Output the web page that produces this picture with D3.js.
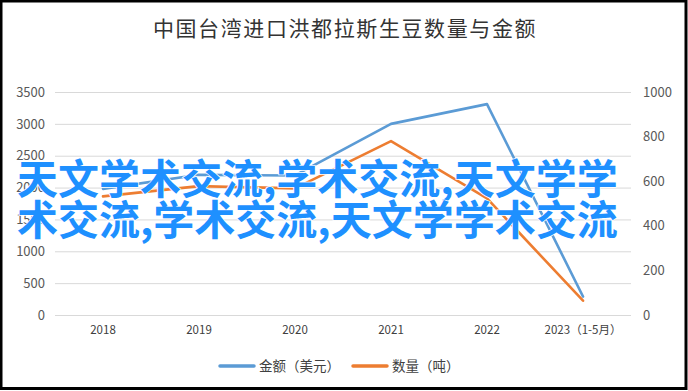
<!DOCTYPE html>
<html>
<head>
<meta charset="utf-8">
<script src="https://cdn.jsdelivr.net/npm/d3@7"></script>
<style>
  body { margin: 0; background: #fff; }
  svg text { font-family: "Noto Sans CJK SC", "Noto Sans", sans-serif; }
</style>
</head>
<body>
<div class="line-chart"></div>
<script>
// 資料
const years = ['2018', '2019', '2020', '2021', '2022', '2023（1-5月）'];
const amountUSD = [1980, 2200, 2190, 3000, 3310, 290];   // 金額 左軸
const tonnage = [532, 578, 568, 780, 523, 64];            // 數量 右軸
const leftTicks = [0, 500, 1000, 1500, 2000, 2500, 3000, 3500];
const rightTicks = [0, 200, 400, 600, 800, 1000];
const seriesNames = ['金额（美元）', '数量（吨）'];
const seriesColors = ['#5b9bd5', '#ed7d31'];
const titleText = '中国台湾进口洪都拉斯生豆数量与金额';
const overlayLines = ['天文学术交流,学术交流,天文学学', '术交流,学术交流,天文学学术交流'];

const svg_width = 688, svg_height = 391;
const plot = {left: 55, right: 631, top: 92, bottom: 315};

const svg = d3.select('.line-chart').append('svg')
    .attr('width', svg_width).attr('height', svg_height);

// 外框
svg.append('rect').attr('x', 1).attr('y', 1)
    .attr('width', svg_width - 3).attr('height', svg_height - 3.5)
    .attr('fill', '#fff').attr('stroke', '#000').attr('stroke-width', 3);

const xScale = d3.scaleBand().domain(years).range([plot.left, plot.right]);
const yLeft = d3.scaleLinear().domain([0, 3500]).range([plot.bottom, plot.top]);
const yRight = d3.scaleLinear().domain([0, 1000]).range([plot.bottom, plot.top]);

// 格線 + 左軸
const yAxisL = d3.axisLeft(yLeft).tickValues(leftTicks).tickFormat(d3.format('d'))
    .tickSizeInner(-(plot.right - plot.left)).tickSizeOuter(0).tickPadding(10);
const gL = svg.append('g').attr('transform', `translate(${plot.left},0)`).call(yAxisL);
gL.select('.domain').remove();
gL.selectAll('line').attr('stroke', '#d9d9d9');
gL.selectAll('text').attr('fill', '#595959').style('font-size', '13px');

// 右軸
const yAxisR = d3.axisRight(yRight).tickValues(rightTicks).tickFormat(d3.format('d'))
    .tickSize(0).tickPadding(12);
const gR = svg.append('g').attr('transform', `translate(${plot.right},0)`).call(yAxisR);
gR.select('.domain').remove();
gR.selectAll('text').attr('fill', '#595959').style('font-size', '13px');

// x軸
const xAxis = d3.axisBottom(xScale).tickSize(0).tickPadding(11);
const gX = svg.append('g').attr('transform', `translate(0,${plot.bottom})`).call(xAxis);
gX.select('.domain').remove();
gX.selectAll('text').attr('fill', '#404040').style('font-size', '11.5px');

// 折線
const cx = d => xScale(d) + xScale.bandwidth() / 2;
const lineL = d3.line().x((d, i) => cx(years[i])).y(d => yLeft(d));
const lineR = d3.line().x((d, i) => cx(years[i])).y(d => yRight(d));

svg.append('path').datum(amountUSD).attr('d', lineL)
    .attr('fill', 'none').attr('stroke', seriesColors[0]).attr('stroke-width', 2.6)
    .attr('stroke-linejoin', 'round').attr('stroke-linecap', 'round');
svg.append('path').datum(tonnage).attr('d', lineR)
    .attr('fill', 'none').attr('stroke', seriesColors[1]).attr('stroke-width', 2.6)
    .attr('stroke-linejoin', 'round').attr('stroke-linecap', 'round');

// 標題
svg.append('text').attr('x', 345).attr('y', 36).attr('text-anchor', 'middle')
    .style('font-size', '21px').style('letter-spacing', '1.6px').attr('fill', '#333')
    .text(titleText);

// 圖例
const legendX = [220, 353];
const legend = svg.append('g').selectAll('g').data(seriesNames).join('g')
    .attr('transform', (d, i) => `translate(${legendX[i]},366)`);
legend.append('line').attr('x1', 0).attr('x2', 34).attr('y1', 0).attr('y2', 0)
    .attr('stroke', (d, i) => seriesColors[i]).attr('stroke-width', 3.5)
    .attr('stroke-linecap', 'round');
legend.append('text').attr('x', 39).attr('dy', '0.36em')
    .style('font-size', '13.5px').attr('fill', '#404040').text(d => d);

// 浮水印文字
const overlay = svg.append('text').attr('x', 17).attr('y', 194)
    .style('font-size', '41px').style('font-weight', 'bold')
    .attr('fill', '#1e90ff').attr('stroke', '#fff').attr('stroke-width', 1.5)
    .style('paint-order', 'stroke');
overlay.selectAll('tspan').data(overlayLines).join('tspan')
    .attr('x', 17).attr('dy', (d, i) => i === 0 ? 0 : 41).text(d => d);
</script>
</body>
</html>
